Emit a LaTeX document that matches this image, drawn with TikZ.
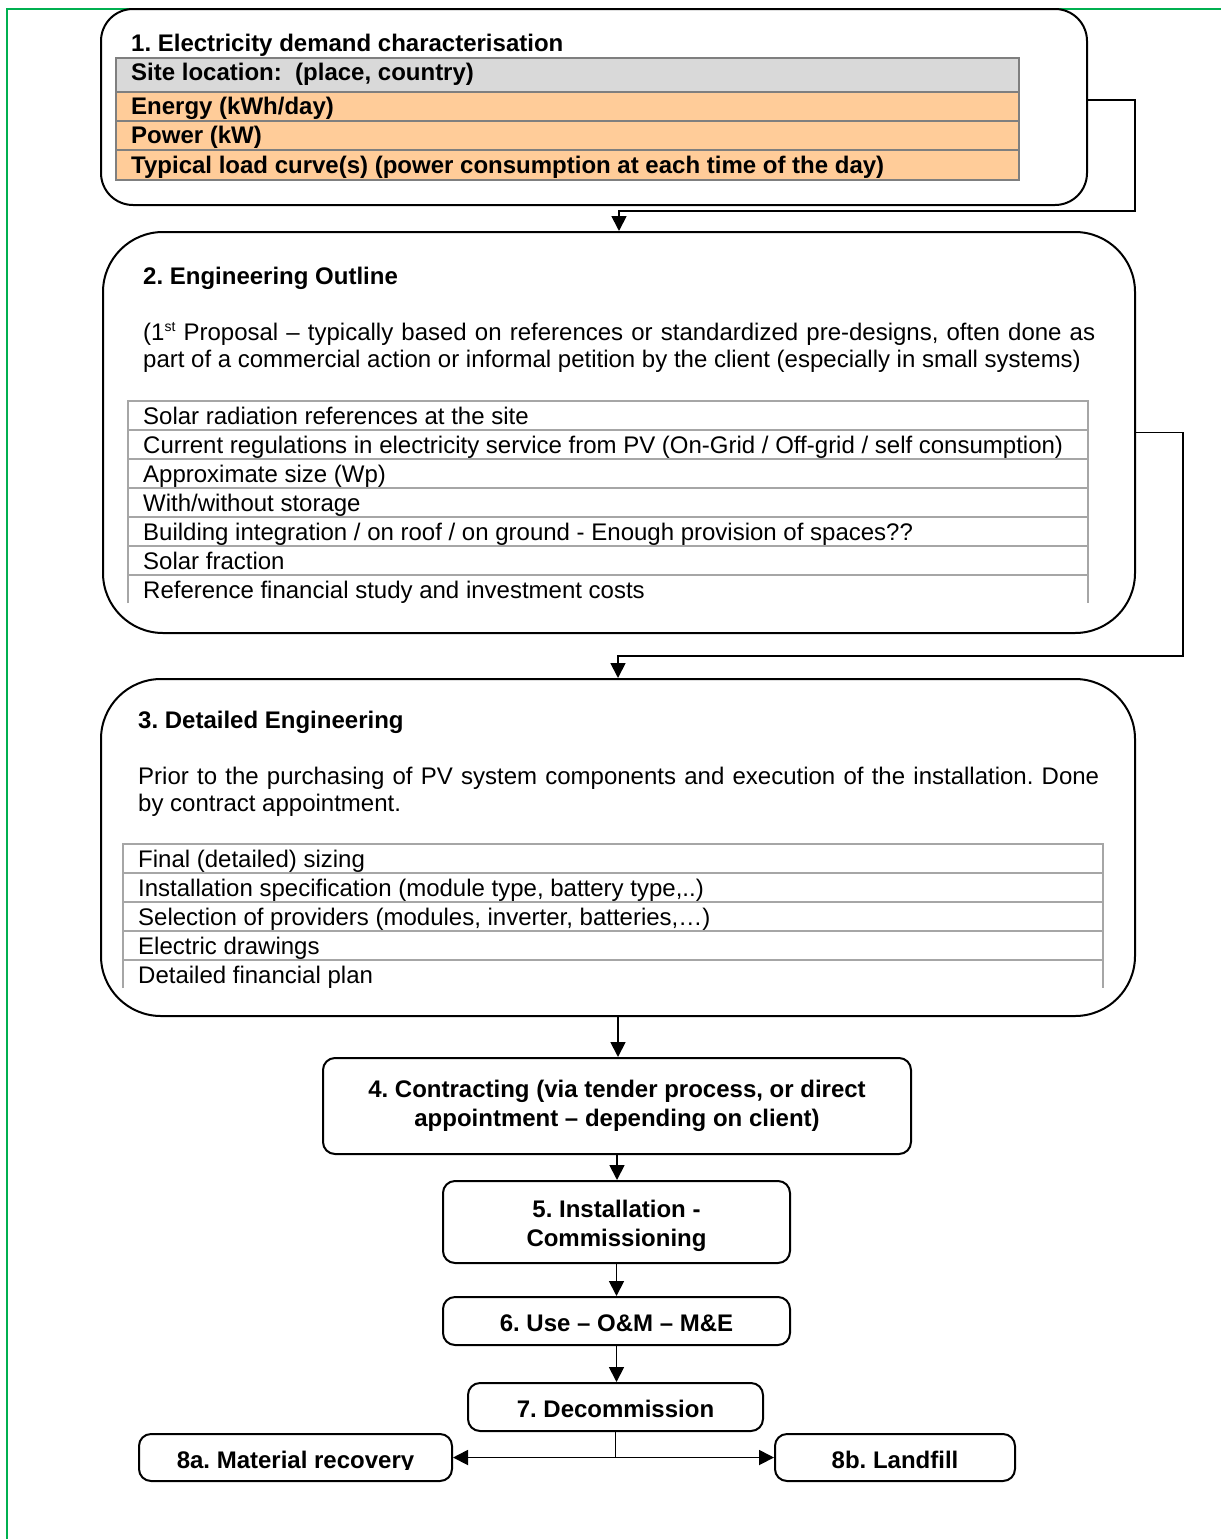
\documentclass[tikz,border=0pt]{standalone}
\usepackage{fontspec}
\setmainfont{Liberation Sans}
\usetikzlibrary{arrows.meta}

\definecolor{framegreen}{HTML}{00B050}
\definecolor{sitegray}{HTML}{D9D9D9}
\definecolor{loadorange}{HTML}{FFCC99}
\definecolor{ruledark}{HTML}{7F7F7F}
\definecolor{rulelight}{HTML}{A6A6A6}

\newcommand\regtext{\fontsize{24}{27}\selectfont}
\newcommand\boldtext{\fontsize{24}{29}\selectfont\bfseries}

\tikzset{
  stage/.style={draw=black, line width=2pt, fill=white, rounded corners=#1,
    inner sep=0pt, align=center, font=\boldtext},
  stage/.default=12pt,
  caption/.style={inner sep=0pt, font=\boldtext},
  plain/.style={anchor=base west, inner sep=0pt, font=\regtext},
  heading/.style={anchor=base west, inner sep=0pt, font=\boldtext},
  flow/.style={draw=black, line width=1.8pt, -{Triangle[length=15pt,width=15pt]}},
  link/.style={draw=black, line width=1.8pt},
  frameline/.style={draw=framegreen, line width=2pt},
  darkrule/.style={draw=ruledark, line width=1.5pt},
  lightrule/.style={draw=rulelight, line width=1.5pt}
}

\begin{document}
\frenchspacing
\begin{tikzpicture}[x=1pt, y=-1pt]
\useasboundingbox (0,0) rectangle (1221,1539);

% page frame
\draw[frameline] (7,1539) -- (7,9) -- (1221,9);

% stage boxes
\node[stage=32pt, minimum width=986pt, minimum height=196pt] (b1) at (594,107) {};
\node[stage=60pt, minimum width=1032pt, minimum height=401pt] (b2) at (619,432.5) {};
\node[stage=60pt, minimum width=1034pt, minimum height=337pt] (b3) at (618,847.5) {};
\node[stage, minimum width=588pt, minimum height=96pt] (b4) at (617,1106)
  {4. Contracting (via tender process, or direct\\appointment -- depending on client)};
\node[stage, minimum width=347pt, minimum height=82pt] (b5) at (616.5,1222) {};
\node[stage, minimum width=347pt, minimum height=48pt] (b6) at (616.5,1321) {};
\node[stage, minimum width=295pt, minimum height=48pt] (b7) at (615.5,1407) {};
\node[stage, minimum width=313pt, minimum height=47pt] (b8a) at (295.5,1457.5) {};
\node[stage, minimum width=240pt, minimum height=47pt] (b8b) at (895,1457.5) {};

% captions of the lower stages
\node[caption, align=center] (t5) at (616.5,1226) {5. Installation -\\Commissioning};
\node[caption] (t6) at (616.5,1323.5) {6. Use -- O\&M -- M\&E};
\node[caption] (t7) at (615.5,1409) {7. Decommission};
\node[caption, anchor=base] (t8b) at (895,1468) {8b. Landfill};
\begin{scope}
  \clip (140,1436) rectangle (451,1469.5);
  \node[caption, anchor=base] (t8a) at (295.5,1468) {8a. Material recovery};
\end{scope}

% 1. demand table
\node[heading] (t1) at (131,51) {1. Electricity demand characterisation};
\draw[darkrule, fill=sitegray] (116,58) rectangle (1019,92);
\draw[darkrule, fill=loadorange] (116,92) rectangle (1019,121);
\draw[darkrule, fill=loadorange] (116,121) rectangle (1019,150);
\draw[darkrule, fill=loadorange] (116,150) rectangle (1019,180);
\node[heading] (r11) at (131,80) {Site location:\ \ (place, country)};
\node[heading] (r12) at (131,114) {Energy (kWh/day)};
\node[heading] (r13) at (131,143) {Power (kW)};
\node[heading] (r14) at (131,173) {Typical load curve(s) (power consumption at each time of the day)};

% 2. engineering outline
\node[heading] (t2) at (143,284) {2. Engineering Outline};
\node[plain] (p2a) at (143,340) {\makebox[952pt][s]{(1\raisebox{9pt}{\fontsize{14}{14}\selectfont st} Proposal -- typically based on references or standardized pre-designs, often done as}};
\node[plain] (p2b) at (143,367) {part of a commercial action or informal petition by the client (especially in small systems)};
\draw[lightrule] (128,603) -- (128,401) -- (1088,401) -- (1088,603);
\foreach \yy in {430,459,...,575} \draw[lightrule] (128,\yy) -- (1088,\yy);
\node[plain] (r21) at (143,424) {Solar radiation references at the site};
\node[plain] (r22) at (143,453) {Current regulations in electricity service from PV (On-Grid / Off-grid / self consumption)};
\node[plain] (r23) at (143,482) {Approximate size (Wp)};
\node[plain] (r24) at (143,511) {With/without storage};
\node[plain] (r25) at (143,540) {Building integration / on roof / on ground - Enough provision of spaces??};
\node[plain] (r26) at (143,569) {Solar fraction};
\node[plain] (r27) at (143,598) {Reference financial study and investment costs};

% 3. detailed engineering
\node[heading] (t3) at (138,728) {3. Detailed Engineering};
\node[plain] (p3a) at (138,784) {\makebox[961pt][s]{Prior to the purchasing of PV system components and execution of the installation. Done}};
\node[plain] (p3b) at (138,811) {by contract appointment.};
\draw[lightrule] (123,988) -- (123,844) -- (1103,844) -- (1103,988);
\foreach \yy in {873,902,...,960} \draw[lightrule] (123,\yy) -- (1103,\yy);
\node[plain] (r31) at (138,867) {Final (detailed) sizing};
\node[plain] (r32) at (138,896) {Installation specification (module type, battery type,..)};
\node[plain] (r33) at (138,925) {Selection of providers (modules, inverter, batteries,\dots)};
\node[plain] (r34) at (138,954) {Electric drawings};
\node[plain] (r35) at (138,983) {Detailed financial plan};

% connectors
\draw[flow] ([yshift=7pt]b1.east) -| (1135,211) -| (b2.north);
\draw[flow] (b2.east) -| (1183,656) -| (b3.north);
\draw[flow] (b3.south) -- (b3.south |- b4.north);
\draw[flow] (b4.south) -- (b4.south |- b5.north);
\draw[flow] (b5.south) -- (b6.north);
\draw[flow] (b6.south) -- (b6.south |- b7.north);
\coordinate (split) at (b7.south |- b8a.east);
\draw[link] (b7.south) -- (split);
\draw[flow] (split) -- (b8a.east);
\draw[flow] (split) -- (b8b.west);
\end{tikzpicture}
\end{document}
